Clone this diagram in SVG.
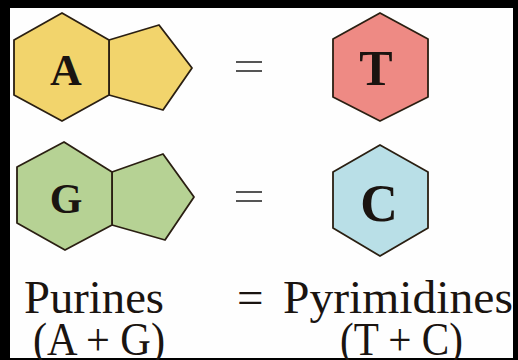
<svg xmlns="http://www.w3.org/2000/svg" width="518" height="360" viewBox="0 0 518 360">
<style>
.ring{stroke:#2a1f12;stroke-width:1.8;stroke-linejoin:round}
.y{fill:#f2d46c}.g{fill:#b6d294}.p{fill:#ee8a84}.b{fill:#b9dfe7}
.lbl{font-family:"Liberation Serif",serif;font-weight:bold;fill:#1a1410;text-anchor:middle}
.txt{font-family:"Liberation Serif",serif;fill:#1a1410;font-size:47px}
.eq{stroke:#555;stroke-width:2}
</style>
<rect width="518" height="360" fill="#000"/>
<rect x="10" y="8" width="503" height="350" fill="#fefefe"/>
<g id="adenine">
<polygon class="ring y" points="109,40 159,25 192,68 163,110 109,95"/>
<polygon class="ring y" points="62,13 109,40 109,95 62,121 14,95 14,40"/>
<text class="lbl" x="66" y="85" font-size="44">A</text>
</g>
<g id="thymine">
<polygon class="ring p" points="380,13 428,39 428,97 380,121 333,97 333,39"/>
<text class="lbl" x="376" y="85" font-size="50">T</text>
</g>
<g id="guanine">
<polygon class="ring g" points="112,172 163,154 194,197 165,240 112,225"/>
<polygon class="ring g" points="64,142 112,172 112,225 65,250 17,223 17,167"/>
<text class="lbl" x="66" y="213" font-size="42">G</text>
</g>
<g id="cytosine">
<polygon class="ring b" points="380,145 428,172 428,228 380,256 333,228 333,172"/>
<text class="lbl" x="379" y="221" font-size="52">C</text>
</g>
<g id="connectors">
<line class="eq" x1="236" y1="62" x2="262" y2="62"/>
<line class="eq" x1="236" y1="71" x2="262" y2="71"/>
<line class="eq" x1="236" y1="192" x2="262" y2="192"/>
<line class="eq" x1="236" y1="201" x2="262" y2="201"/>
</g>
<text class="txt" x="24" y="313" textLength="140" lengthAdjust="spacingAndGlyphs">Purines</text>
<text class="txt" x="237" y="313">=</text>
<text class="txt" x="283" y="313" textLength="230" lengthAdjust="spacingAndGlyphs">Pyrimidines</text>
<text class="txt" x="33" y="355" textLength="132" lengthAdjust="spacingAndGlyphs">(A + G)</text>
<text class="txt" x="340" y="355" textLength="123" lengthAdjust="spacingAndGlyphs">(T + C)</text>
</svg>
